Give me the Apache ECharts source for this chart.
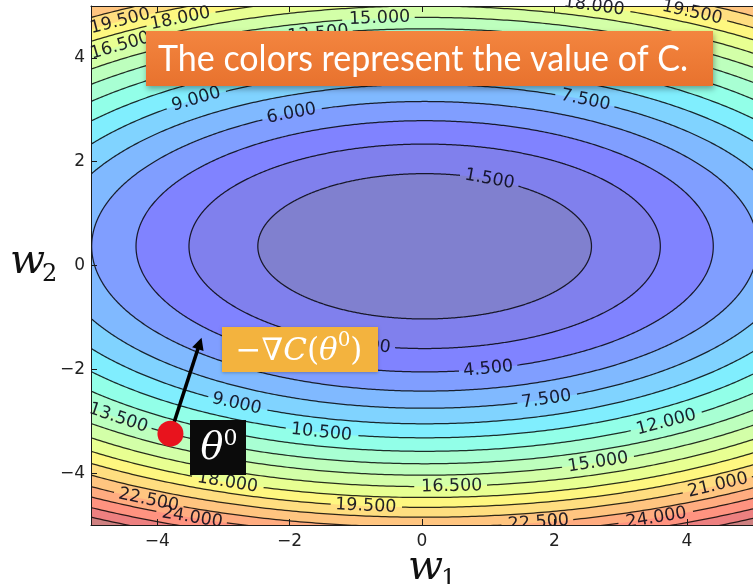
<!DOCTYPE html>
<html>
<head>
<meta charset="utf-8">
<title>Gradient descent on C(w1, w2)</title>
<script src="https://cdn.jsdelivr.net/npm/echarts@6.0.0/dist/echarts.min.js"></script>
<style>
  html, body { margin: 0; padding: 0; background: #ffffff; }
  #chart { width: 753px; height: 584px; }
</style>
</head>
<body>
<div id="chart"></div>
<script>
// ---- data ---------------------------------------------------------------
// Contour levels of the cost C
const levels = [1.5, 3, 4.5, 6, 7.5, 9, 10.5, 12, 13.5, 15, 16.5, 18, 19.5, 21, 22.5, 24, 25.5, 27, 28.5];
// Half extent of each level curve along w1 and along w2
const halfW1 = [2.52, 3.56, 4.36, 5.03, 5.63, 6.16, 6.66, 7.12, 7.55, 7.96, 8.34, 8.72, 9.07, 9.41, 9.74, 10.06, 10.37, 10.67, 10.97];
const halfW2 = [1.40, 1.97, 2.42, 2.79, 3.12, 3.42, 3.69, 3.95, 4.19, 4.41, 4.63, 4.84, 5.03, 5.22, 5.41, 5.58, 5.76, 5.92, 6.08];
// Minimum of C, the common centre of the level curves
const minimum = [0.04, 0.37];
// Starting point theta0 and where one step along -grad C lands
const theta0 = [-3.80, -3.24];
const stepTip = [-3.33, -1.39];
// Axis ticks
const xTicks = [-4, -2, 0, 2, 4];
const yTicks = [-4, -2, 0, 2, 4];

// ---- layout: where each inline level label sits ---------------------------
// level, w1 position along the curve, branch (+1 upper half, -1 lower half)
const labelSpots = [
  [19.5, -4.56, 1], [18, -3.65, 1], [16.5, -4.56, 1], [13.5, -1.57, 1], [15, -0.64, 1],
  [9, -3.41, 1], [6, -1.97, 1], [7.5, 2.47, 1], [1.5, 1.02, 1], [18, 2.6, 1], [19.5, 4.08, 1],
  [3, -0.85, -1], [4.5, 1.0, -1], [7.5, 1.88, -1], [9, -2.8, -1], [13.5, -4.59, -1],
  [10.5, -1.52, -1], [12, 3.69, -1], [15, 2.66, -1], [16.5, 0.45, -1], [18, -2.94, -1],
  [19.5, -0.85, -1], [21, 4.47, -1], [22.5, -4.13, -1], [24, -3.47, -1], [22.5, 1.76, -1],
  [24, 3.54, -1]
];

// ---- helpers --------------------------------------------------------------
const LABEL_SIZE = 17.5;
const LABEL_FAMILY = '"DejaVu Sans", sans-serif';
const LINE_COLOR = 'rgba(0,0,0,0.82)';
const TEXT_COLOR = 'rgba(10,10,25,0.9)';
const FILL_ALPHA = 0.5;
const MATH_FAMILY = '"DejaVu Serif", serif';

const fmt = v => v.toFixed(3);
const signed = v => (v < 0 ? '\u2212' + Math.abs(v) : String(v));

const measureCtx = document.createElement('canvas').getContext('2d');
function textWidth(text, font) {
  measureCtx.font = font;
  return measureCtx.measureText(text).width;
}

// matplotlib "jet" colour ramp
const JET = {
  r: [[0, 0], [0.35, 0], [0.66, 1], [0.89, 1], [1, 0.5]],
  g: [[0, 0], [0.125, 0], [0.375, 1], [0.64, 1], [0.91, 0], [1, 0]],
  b: [[0, 0.5], [0.11, 1], [0.34, 1], [0.65, 0], [1, 0]]
};
function ramp(pts, x) {
  for (let k = 1; k < pts.length; k++) {
    if (x <= pts[k][0]) {
      const [x0, y0] = pts[k - 1], [x1, y1] = pts[k];
      return y0 + (y1 - y0) * (x - x0) / (x1 - x0);
    }
  }
  return pts[pts.length - 1][1];
}
// colour of the band just inside level i, washed over white
function bandColor(i) {
  const lo = i === 0 ? 0 : levels[i - 1];
  const t = ((lo + levels[i]) / 2) / levels[levels.length - 1];
  const ch = k => Math.round(255 * (1 - FILL_ALPHA + FILL_ALPHA * ramp(JET[k], t)));
  return 'rgb(' + ch('r') + ',' + ch('g') + ',' + ch('b') + ')';
}

// point of level curve li at a given w1 on one branch
function pointOnLevel(li, w1, side) {
  const u = Math.max(-1, Math.min(1, (w1 - minimum[0]) / halfW1[li]));
  const v = side * Math.sqrt(1 - u * u);
  return { w1: w1, w2: minimum[1] + halfW2[li] * v, u: u, v: v };
}

// lay out a run of math pieces centred on cx; each piece: [text, size, italic, rise]
function mathRun(pieces, cx, cy, z) {
  const fonts = pieces.map(p => (p[2] ? 'italic ' : '') + p[1] + 'px ' + MATH_FAMILY);
  const widths = pieces.map((p, k) => textWidth(p[0], fonts[k]));
  const total = widths.reduce((a, b) => a + b, 0);
  let x = cx - total / 2;
  return pieces.map((p, k) => {
    const el = {
      type: 'text', z: z, x: x, y: cy - p[3], silent: true,
      style: { text: p[0], fontSize: p[1], fontFamily: MATH_FAMILY, fontStyle: p[2] ? 'italic' : 'normal',
               fill: '#ffffff', align: 'left', verticalAlign: 'middle' }
    };
    x += widths[k];
    return el;
  });
}

// ---- series renderers -------------------------------------------------------
function renderFill(params, api) {
  const i = api.value(2);
  const c = api.coord([minimum[0], minimum[1]]);
  const s = api.size([halfW1[i], halfW2[i]]);
  return {
    type: 'ellipse',
    shape: { cx: c[0], cy: c[1], rx: s[0], ry: s[1] },
    style: { fill: bandColor(i), stroke: null },
    silent: true
  };
}

function renderLine(params, api) {
  const i = api.value(2);
  const N = 1000;
  const pts = [];
  for (let k = 0; k < N; k++) {
    const t = 2 * Math.PI * k / N;
    pts.push(api.coord([minimum[0] + halfW1[i] * Math.cos(t), minimum[1] + halfW2[i] * Math.sin(t)]));
  }
  const font = LABEL_SIZE + 'px ' + LABEL_FAMILY;
  const gaps = labelSpots.filter(s => s[0] === levels[i]).map(s => {
    const p = pointOnLevel(i, s[1], s[2]);
    const c = api.coord([p.w1, p.w2]);
    return [c[0], c[1], textWidth(fmt(s[0]), font) / 2 + 4];
  });
  const keep = pts.map(p => gaps.every(g => Math.hypot(p[0] - g[0], p[1] - g[1]) > g[2]));
  const lineStyle = { fill: null, stroke: LINE_COLOR, lineWidth: 1.25 };
  const start = keep.indexOf(false);
  if (start < 0) {
    return { type: 'polyline', shape: { points: pts.concat([pts[0]]) }, style: lineStyle, silent: true };
  }
  const children = [];
  let run = [];
  for (let k = 1; k <= N; k++) {
    const idx = (start + k) % N;
    if (keep[idx]) {
      run.push(pts[idx]);
    } else if (run.length) {
      if (run.length > 1) children.push({ type: 'polyline', shape: { points: run }, style: lineStyle, silent: true });
      run = [];
    }
  }
  if (run.length > 1) children.push({ type: 'polyline', shape: { points: run }, style: lineStyle, silent: true });
  return { type: 'group', children: children };
}

function renderLabel(params, api) {
  const spot = labelSpots[params.dataIndex];
  const i = levels.indexOf(spot[0]);
  const p = pointOnLevel(i, spot[1], spot[2]);
  const c = api.coord([p.w1, p.w2]);
  const k = api.size([1, 1]);
  const tx = -halfW1[i] * p.v * k[0];
  const ty = -halfW2[i] * p.u * k[1];
  let ang = Math.atan2(ty, tx);
  if (ang > Math.PI / 2) ang -= Math.PI;
  if (ang < -Math.PI / 2) ang += Math.PI;
  return {
    type: 'text',
    x: c[0], y: c[1],
    rotation: -ang,
    style: {
      text: fmt(spot[0]),
      fontSize: LABEL_SIZE,
      fontFamily: LABEL_FAMILY,
      fill: TEXT_COLOR,
      align: 'center',
      verticalAlign: 'middle'
    },
    silent: true
  };
}

function renderArrow(params, api) {
  const p0 = api.coord([api.value(0), api.value(1)]);
  const p1 = api.coord([api.value(2), api.value(3)]);
  const dx = p1[0] - p0[0], dy = p1[1] - p0[1];
  const len = Math.hypot(dx, dy);
  const ux = dx / len, uy = dy / len;
  const head = 12, half = 6;
  const base = [p1[0] - ux * head, p1[1] - uy * head];
  return {
    type: 'group',
    children: [
      { type: 'line', shape: { x1: p0[0], y1: p0[1], x2: base[0] + ux * 2, y2: base[1] + uy * 2 },
        style: { stroke: '#000', lineWidth: 3.5 } },
      { type: 'polygon', shape: { points: [p1, [base[0] - uy * half, base[1] + ux * half], [base[0] + uy * half, base[1] - ux * half]] },
        style: { fill: '#000' } }
    ]
  };
}

// ---- chart -----------------------------------------------------------------
const fillOrder = levels.map((_, i) => i).reverse();
const levelData = fillOrder.map(i => [minimum[0], minimum[1], i]);

const titleText = 'The colors represent the value of C.';
const TITLE_SIZE = 36;
const titleScale = 530 / textWidth(titleText, TITLE_SIZE + 'px Lato');

const axisCommon = {
  type: 'value', min: -5, max: 5, z: 5,
  splitLine: { show: false },
  axisLine: { show: true, onZero: false, lineStyle: { color: '#1a1a1a', width: 1 } },
  axisTick: { show: true, inside: true, length: 6, lineStyle: { color: '#1a1a1a', width: 1 } }
};

const option = {
  animation: false,
  backgroundColor: '#ffffff',
  grid: { left: 91, top: 6, width: 668, height: 519, containLabel: false },
  xAxis: [
    Object.assign({}, axisCommon, {
      position: 'bottom',
      axisTick: Object.assign({}, axisCommon.axisTick, { customValues: xTicks }),
      axisLabel: { customValues: xTicks, formatter: signed, fontSize: 17, fontFamily: 'DejaVu Sans', color: '#222', margin: 8 }
    }),
    Object.assign({}, axisCommon, {
      position: 'top',
      axisTick: Object.assign({}, axisCommon.axisTick, { customValues: xTicks }),
      axisLabel: { show: false }
    })
  ],
  yAxis: [
    Object.assign({}, axisCommon, {
      position: 'left',
      axisTick: Object.assign({}, axisCommon.axisTick, { customValues: yTicks }),
      axisLabel: { customValues: yTicks, formatter: signed, fontSize: 17, fontFamily: 'DejaVu Sans', color: '#222', margin: 6 }
    })
  ],
  series: [
    { type: 'custom', name: 'bands', renderItem: renderFill, data: levelData, clip: true, z: 1,
      encode: { x: 0, y: 1 }, silent: true },
    { type: 'custom', name: 'levels', renderItem: renderLine, data: levelData, clip: true, z: 2,
      encode: { x: 0, y: 1 }, silent: true },
    { type: 'custom', name: 'level labels', renderItem: renderLabel,
      data: labelSpots.map(s => [s[1], s[0]]), clip: false, z: 3, encode: { x: 0, y: 1 }, silent: true },
    { type: 'custom', name: 'step', renderItem: renderArrow,
      data: [[theta0[0], theta0[1], stepTip[0], stepTip[1]]], z: 7, encode: { x: 0, y: 1 }, silent: true },
    { type: 'scatter', name: 'theta0', data: [theta0], symbolSize: 26, z: 8,
      itemStyle: { color: '#E8131D', opacity: 1 }, silent: true }
  ],
  graphic: [
    // keep labels from spilling below / left of the frame
    { type: 'rect', z: 4, silent: true, shape: { x: 0, y: 525.6, width: 753, height: 60 }, style: { fill: '#ffffff' } },
    { type: 'rect', z: 4, silent: true, shape: { x: 0, y: 0, width: 90.5, height: 584 }, style: { fill: '#ffffff' } },
    // axis titles
    { type: 'text', z: 10, x: 10, y: 262, style: { text: 'w', fontSize: 41, fontFamily: MATH_FAMILY, fontStyle: 'italic', fill: '#111', align: 'left', verticalAlign: 'middle' } },
    { type: 'text', z: 10, x: 42, y: 275, style: { text: '2', fontSize: 24, fontFamily: MATH_FAMILY, fill: '#111', align: 'left', verticalAlign: 'middle' } },
    { type: 'text', z: 10, x: 408, y: 568, style: { text: 'w', fontSize: 41, fontFamily: MATH_FAMILY, fontStyle: 'italic', fill: '#111', align: 'left', verticalAlign: 'middle' } },
    { type: 'text', z: 10, x: 441, y: 580, style: { text: '1', fontSize: 24, fontFamily: MATH_FAMILY, fill: '#111', align: 'left', verticalAlign: 'middle' } },
    // banner
    { type: 'rect', z: 20, shape: { x: 146, y: 31, width: 567, height: 55 },
      style: {
        fill: new echarts.graphic.LinearGradient(0, 0, 0, 1, [{ offset: 0, color: '#F3853F' }, { offset: 1, color: '#E8722E' }]),
        shadowBlur: 6, shadowOffsetX: 1, shadowOffsetY: 3, shadowColor: 'rgba(0,0,0,0.35)'
      } },
    { type: 'text', z: 21, x: 423, y: 59, scaleX: titleScale, silent: true,
      style: { text: titleText, fontSize: TITLE_SIZE, fontFamily: 'Lato', fill: '#ffffff', align: 'center', verticalAlign: 'middle' } },
    // -grad C(theta0) tag
    { type: 'rect', z: 20, shape: { x: 222, y: 327, width: 156, height: 45 },
      style: { fill: '#F3B33E', shadowBlur: 3, shadowOffsetY: 1, shadowColor: 'rgba(0,0,0,0.25)' } }
  ].concat(
    mathRun([['\u2212\u2207', 31, false, 0], ['C', 31, true, 0], ['(', 31, false, 0], ['\u03B8', 31, true, 0],
             ['0', 20, false, 11], [')', 31, false, 0]], 299, 352, 21),
    [{ type: 'rect', z: 20, shape: { x: 190, y: 420, width: 56, height: 55 }, style: { fill: '#0b0b0b' } }],
    mathRun([['\u03B8', 38, true, 0], ['0', 22, false, 10]], 219, 449, 21)
  )
};

const chart = echarts.init(document.getElementById('chart'), null, { renderer: 'canvas' });
chart.setOption(option);
</script>
</body>
</html>
